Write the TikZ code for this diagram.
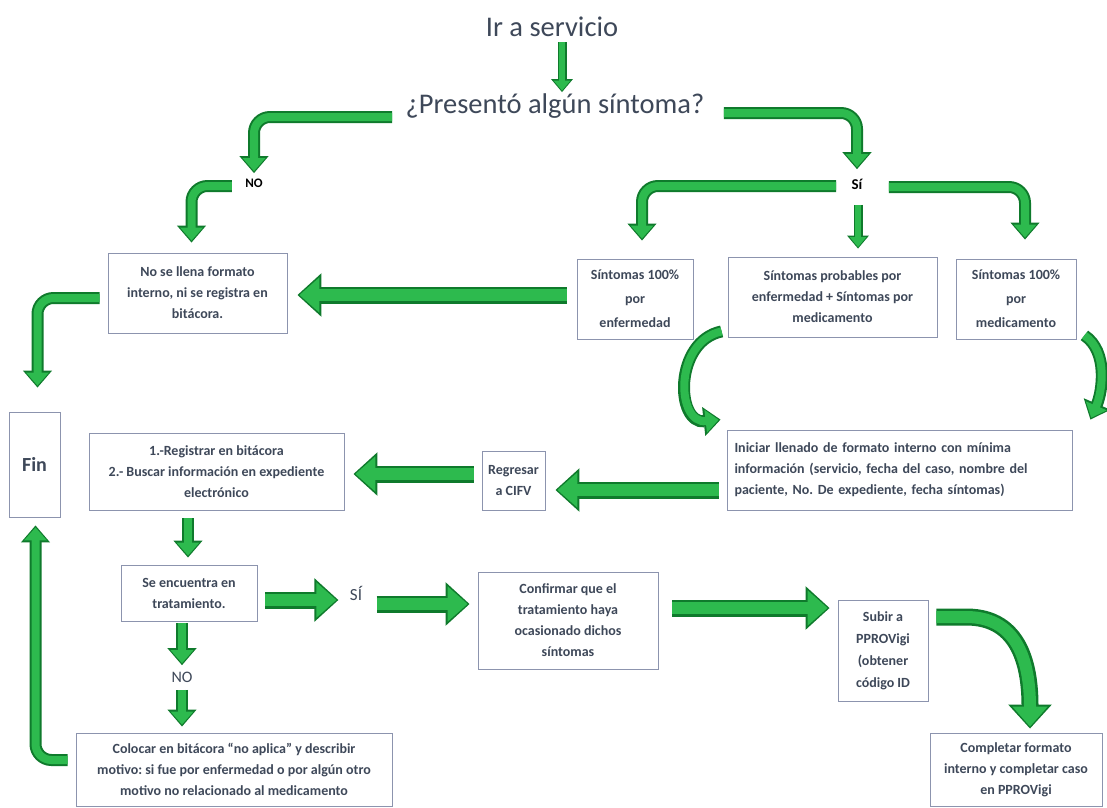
\documentclass[tikz,border=0pt]{standalone}
\usepackage{fontspec}
\setmainfont{Carlito}
\usetikzlibrary{arrows.meta,calc}
\frenchspacing
\definecolor{txt}{HTML}{3E4859}
\definecolor{bord}{HTML}{8C94AE}
\definecolor{gbright}{HTML}{2DBA4E}
\definecolor{gdark}{HTML}{0F7A2C}
\tikzset{
  box/.style={draw=bord, line width=0.8pt, fill=white, align=center, text=txt,
    font=\fontsize{14}{21}\selectfont\bfseries, inner sep=2pt},
  garrow/.style={line width=8pt, draw=gbright, rounded corners=16pt,
    -{Triangle[width=22pt,length=13pt]}, shorten >=2pt,
    preaction={draw=gdark, line width=12pt, -{Triangle[width=28pt,length=17pt]}, shorten >=0pt}},
  sarrow/.style={line width=6pt, draw=gbright, rounded corners=12pt,
    -{Triangle[width=16pt,length=10pt]}, shorten >=1.5pt,
    preaction={draw=gdark, line width=9pt, -{Triangle[width=21pt,length=13pt]}, shorten >=0pt}},
  barrow/.style={line width=12pt, draw=gbright,
    -{Triangle[width=34pt,length=20pt]}, shorten >=2pt,
    preaction={draw=gdark, line width=17pt, -{Triangle[width=42pt,length=24pt]}, shorten >=0pt}},
  lbl/.style={text=black, font=\bfseries}
}
\begin{document}
\begin{tikzpicture}[x=1pt,y=-1pt]
\useasboundingbox[fill=white] (0,0) rectangle (1107,807);

% titles
\node[text=txt, font=\fontsize{28.5}{32}\selectfont] (ir) at (552,27) {Ir a servicio};
\node[text=txt, font=\fontsize{28.5}{32}\selectfont] (pres) at (555,106) {¿Presentó algún síntoma?};
\node[lbl, font=\fontsize{13}{15}\selectfont\bfseries] (no1) at (254,183) {NO};
\node[lbl, font=\fontsize{15}{17}\selectfont\bfseries] (si1) at (857,184) {Sí};

% boxes
\node[box, minimum width=179pt, minimum height=80pt] (nollena) at (197.5,293)
  {No se llena formato\\interno, ni se registra en\\bitácora.};
\node[box, minimum width=116pt, minimum height=80pt, font=\fontsize{14}{24}\selectfont\bfseries] (s1) at (635,299)
  {Síntomas 100\%\\por\\enfermedad};
\node[box, minimum width=209pt, minimum height=80pt] (s2) at (832.5,297)
  {Síntomas probables por\\enfermedad + Síntomas por\\medicamento};
\node[box, minimum width=120pt, minimum height=80pt, font=\fontsize{14}{24}\selectfont\bfseries] (s3) at (1016,299)
  {Síntomas 100\%\\por\\medicamento};
\node[box, minimum width=51pt, minimum height=105pt, font=\fontsize{20}{24}\selectfont\bfseries] (fin) at (34.5,464.5) {Fin};
\node[box, minimum width=255pt, minimum height=77pt] (reg) at (216.5,471.5)
  {1.-Registrar en bitácora\\2.- Buscar información en expediente\\electrónico};
\node[box, minimum width=63pt, minimum height=59pt] (regresar) at (513.5,480.5)
  {Regresar\\a CIFV};
\node[box, minimum width=345pt, minimum height=80pt, align=left, text width=330pt] (iniciar) at (899.5,470)
  {Iniciar llenado de formato interno con mínima\\información (servicio, fecha del caso, nombre del\\paciente, No. De expediente, fecha síntomas)};
\node[box, minimum width=136pt, minimum height=56pt] (encuentra) at (189,593)
  {Se encuentra en\\tratamiento.};
\node[text=txt, font=\fontsize{17}{20}\selectfont] (si2) at (356,593) {SÍ};
\node[box, minimum width=180pt, minimum height=97pt] (confirmar) at (568,620.5)
  {Confirmar que el\\tratamiento haya\\ocasionado dichos\\síntomas};
\node[box, minimum width=90pt, minimum height=101pt, font=\fontsize{14}{22}\selectfont\bfseries] (subir) at (883,650.5)
  {Subir a\\PPROVigi\\(obtener\\código ID};
\node[text=txt, font=\fontsize{16}{18}\selectfont] (no2) at (182,677) {NO};
\node[box, minimum width=172pt, minimum height=73pt] (completar) at (1016,769.5)
  {Completar formato\\interno y completar caso\\en PPROVigi};
\node[box, minimum width=316pt, minimum height=73pt] (colocar) at (234,769.5)
  {Colocar en bitácora “no aplica” y describir\\motivo: si fue por enfermedad o por algún otro\\motivo no relacionado al medicamento};

% arrows
\draw[sarrow] ([shift={(10,2)}]ir.south) -- ([shift={(7,2)}]pres.north);
\draw[garrow] ([shift={(-10,11)}]pres.west) -| ([shift={(0,-2)}]no1.north);
\draw[garrow] ([shift={(-10,3)}]no1.west) -| ([shift={(-6,-10)}]nollena.north);
\draw[garrow] ([shift={(16,7)}]pres.east) -| ([shift={(0,-6)}]si1.north);
\draw[garrow] ([shift={(-12,2)}]si1.west) -| ([shift={(7,-18)}]s1.north);
\draw[sarrow] ([shift={(1,12)}]si1.south) -- ([shift={(25.5,-8)}]s2.north);
\draw[garrow] ([shift={(23,3)}]si1.east) -| ([shift={(9,-19)}]s3.north);
\draw[barrow] ([shift={(-10,-4)}]s1.west) -- ([shift={(10,2)}]nollena.east);
\draw[garrow] ([shift={(-8,5)}]nollena.west) -| ([shift={(3,-24)}]fin.north);
\draw[garrow] ([shift={(-6,-6)}]s2.south west) .. controls +(-48,10) and +(-45,5) .. ([shift={(-6,-10)}]iniciar.north west);
\draw[garrow] ([shift={(8,-4)}]s3.south east) .. controls +(24,16) and +(12,-28) .. ([shift={(18,-10)}]iniciar.north east);
\draw[barrow] ([shift={(-8,20)}]iniciar.west) -- ([shift={(10,9.5)}]regresar.east);
\draw[barrow] ([shift={(-8,-6.5)}]regresar.west) -- ([shift={(9,2.5)}]reg.east);
\draw[garrow] ([shift={(-28.5,8)}]reg.south) -- ([shift={(-1,-7)}]encuentra.north);
\draw[barrow] ([shift={(8,7)}]encuentra.east) -- ([shift={(-8,7)}]si2.west);
\draw[barrow] ([shift={(11,11)}]si2.east) -- ([shift={(-8,-16.5)}]confirmar.west);
\draw[barrow] ([shift={(14,-12.5)}]confirmar.east) -- ([shift={(-8,-42.5)}]subir.west);
\draw[barrow] ([shift={(8,-33.5)}]subir.east) -- +(30,0) .. controls +(55,0) and +(0,-60) .. ([shift={(14,-4)}]completar.north);
\draw[garrow] ([shift={(-7,2)}]encuentra.south) -- ([shift={(0,-3)}]no2.north);
\draw[garrow] ([shift={(0,4)}]no2.south) -- ([shift={(-52,-6)}]colocar.north);
\draw[garrow] ([shift={(-8,-9.5)}]colocar.west) -| ([shift={(1,8)}]fin.south);
\end{tikzpicture}
\end{document}
